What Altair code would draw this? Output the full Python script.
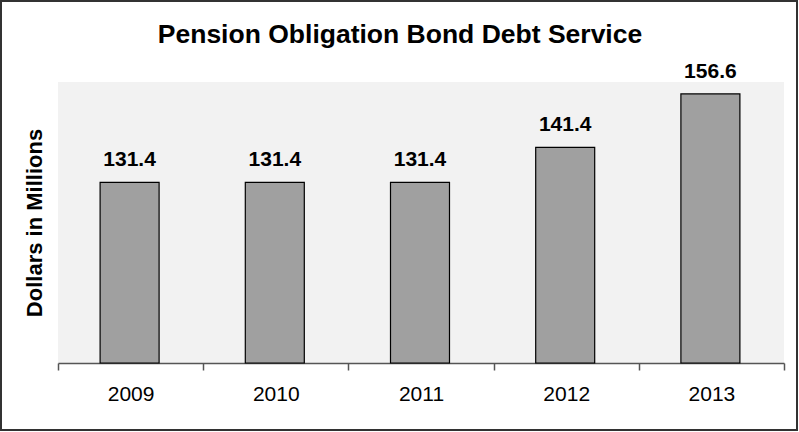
import altair as alt
import pandas as pd

years = ["2009", "2010", "2011", "2012", "2013"]
values = [131.4, 131.4, 131.4, 141.4, 156.6]
labels = ["131.4", "131.4", "131.4", "141.4", "156.6"]
axis_min, axis_max = 80, 160

df = pd.DataFrame({"year": years, "value": values, "label": labels})

FONT = "Liberation Sans"
W, H = 726, 281

x = alt.X("year:N", title=None, sort=years,
          scale=alt.Scale(paddingInner=0, paddingOuter=0),
          axis=alt.Axis(labelAngle=0, tickBand="extent", tickSize=7,
                        domainColor="#555555", tickColor="#555555", domainWidth=1.5,
                        tickWidth=1.5, labelFont=FONT, labelFontSize=21,
                        labelColor="#000000", labelPadding=13))
y = alt.Y("value:Q", title="Dollars in Millions",
          scale=alt.Scale(domain=[axis_min, axis_max], nice=False, zero=False),
          axis=alt.Axis(labels=False, ticks=False, domain=False, grid=False,
                        titleFont=FONT, titleFontSize=22, titleFontWeight="bold",
                        titleColor="#000000", titlePadding=12))

base = alt.Chart(df)

bars = base.mark_bar(color="#a0a0a0", stroke="#000000", strokeWidth=1.2,
                     width=59, xOffset=-1).encode(x=x, y=y, y2=alt.datum(axis_min))

text = base.mark_text(font=FONT, fontSize=21, fontWeight="bold", color="#000000",
                      baseline="alphabetic", dy=-16, dx=-1).encode(
    x=alt.X("year:N", sort=years), y=alt.Y("value:Q"), text="label:N")

frame = base.mark_rect(fill=None, stroke="#333333", strokeWidth=1.5).encode(
    x=alt.value(-57), x2=alt.value(739), y=alt.value(-81), y2=alt.value(348))

chart = alt.layer(bars, text, frame).properties(
    width=W, height=H,
    title=alt.TitleParams("Pension Obligation Bond Debt Service", font=FONT,
                          fontSize=26.5, fontWeight="bold", color="#000000",
                          anchor="middle", frame="group", dx=-21, dy=52),
    autosize=alt.AutoSizeParams(type="none"),
    padding={"left": 58, "top": 82, "right": 15, "bottom": 69},
    background="#ffffff",
).configure_view(fill="#f2f2f2", stroke=None)

chart.save("out.html", embed_options={"renderer": "svg", "actions": False})
